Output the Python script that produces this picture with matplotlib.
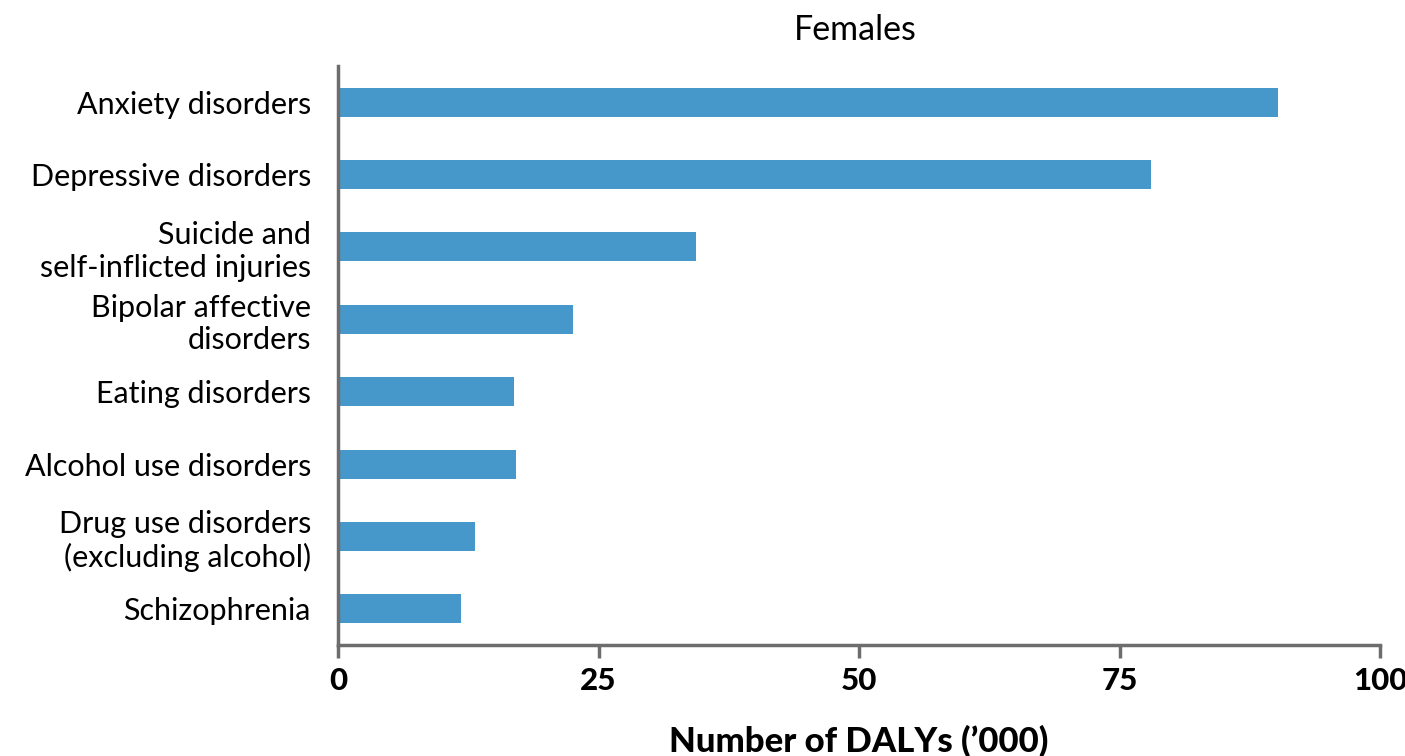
import matplotlib
matplotlib.use("Agg")
import matplotlib.pyplot as plt

plt.rcParams['font.family'] = ['Lato', 'DejaVu Sans']

categories = [
    "Anxiety disorders",
    "Depressive disorders",
    "Suicide and\nself-inflicted injuries",
    "Bipolar affective\ndisorders",
    "Eating disorders",
    "Alcohol use disorders",
    "Drug use disorders\n(excluding alcohol)",
    "Schizophrenia",
]
values = [90.2, 78.0, 34.4, 22.6, 16.9, 17.1, 13.1, 11.8]
xticks = [0, 25, 50, 75, 100]
title = "Females"
xlabel = "Number of DALYs (\u2019000)"

fig = plt.figure(figsize=(14.05, 7.56), dpi=100)
ax = fig.add_axes([338/1405, 111/756, (1380-338)/1405, (645-66)/756])

n = len(categories)
ypos = list(range(n - 1, -1, -1))
ax.barh(ypos, values, height=0.40, color="#4698CB")
ax.set_ylim(-0.5, n - 0.5)
ax.set_xlim(0, 100)
ax.set_yticks(ypos)
ax.set_yticklabels(categories, fontsize=22, ha='right', linespacing=1.2)
ax.tick_params(axis='y', length=0, pad=19.5)
ax.set_xticks(xticks)
ax.set_xticklabels([str(t) for t in xticks], fontsize=22.5, fontweight='black')
ax.tick_params(axis='x', length=9, width=2.5, color="#6d6d6d", pad=7)

for s in ['top', 'right']:
    ax.spines[s].set_visible(False)
for s in ['left', 'bottom']:
    ax.spines[s].set_color("#6d6d6d")
    ax.spines[s].set_linewidth(2.5)

fig.text(855/1405, 1 - 30/756, title, ha='center', va='center', fontsize=24.5)
fig.text(859/1405, 1 - 741/756, xlabel, ha='center', va='center', fontsize=25, fontweight='black')

fig.savefig("out.png", dpi=100)
